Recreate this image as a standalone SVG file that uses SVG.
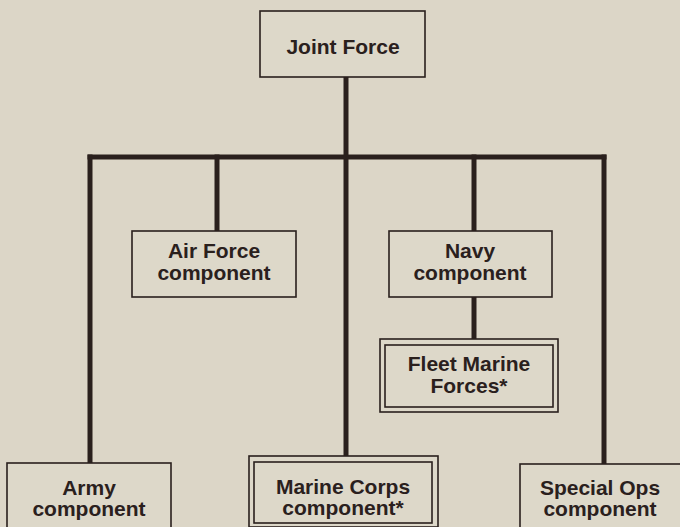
<svg xmlns="http://www.w3.org/2000/svg" width="680" height="527" viewBox="0 0 680 527">
<style>
.bg{fill:#dcd6c7}
.box{fill:#ddd8c9;stroke:#2a201d;stroke-width:1.6}
.in{fill:none;stroke:#2a201d;stroke-width:1.6}
.ln{stroke:#2a201d;stroke-width:5;fill:none;stroke-linecap:square}
text{font-family:"Liberation Sans",Arial,sans-serif;font-weight:bold;font-size:21px;fill:#2a201d;text-anchor:middle}
</style>
<rect class="bg" x="0" y="0" width="680" height="527"/>
<g id="connectors">
<path class="ln" d="M346,79 V455"/>
<path class="ln" d="M90,157 H604"/>
<path class="ln" d="M90,157 V462"/>
<path class="ln" d="M604,157 V463"/>
<path class="ln" d="M217,157 V230"/>
<path class="ln" d="M474,157 V230"/>
<path class="ln" d="M474,298 V338"/>
</g>
<g id="joint-force">
<rect class="box" x="260" y="11" width="165" height="66"/>
<text x="343" y="54">Joint Force</text>
</g>
<g id="air-force">
<rect class="box" x="132" y="231" width="164" height="66"/>
<text x="214" y="258">Air Force</text>
<text x="214" y="280">component</text>
</g>
<g id="navy">
<rect class="box" x="389" y="231" width="163" height="66"/>
<text x="470" y="258">Navy</text>
<text x="470" y="280">component</text>
</g>
<g id="fleet-marine">
<rect class="box" x="380" y="339" width="178" height="73"/>
<rect class="in" x="385" y="345" width="168" height="62"/>
<text x="469" y="371">Fleet Marine</text>
<text x="469" y="393">Forces*</text>
</g>
<g id="army">
<rect class="box" x="7" y="463" width="164" height="80"/>
<text x="89" y="495">Army</text>
<text x="89" y="516">component</text>
</g>
<g id="marine-corps">
<rect class="box" x="249" y="456" width="189" height="71"/>
<rect class="in" x="254" y="462" width="178" height="61"/>
<text x="343" y="494">Marine Corps</text>
<text x="343" y="515">component*</text>
</g>
<g id="special-ops">
<rect class="box" x="520" y="464" width="166" height="80"/>
<text x="600" y="495">Special Ops</text>
<text x="600" y="516">component</text>
</g>
</svg>
